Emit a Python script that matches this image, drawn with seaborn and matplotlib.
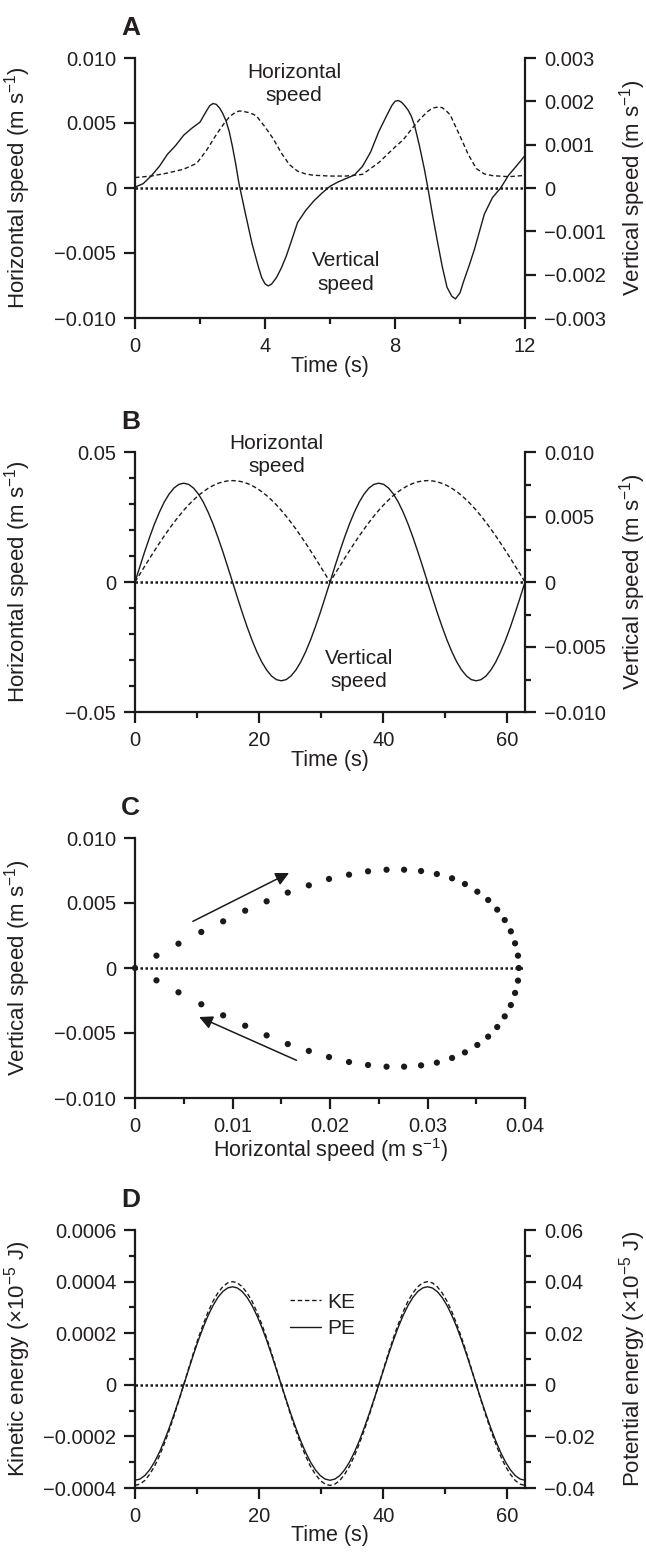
import matplotlib
matplotlib.use('Agg')
import matplotlib.pyplot as plt
from matplotlib.lines import Line2D
import seaborn as sns

# ---------------- data ----------------
# Panel A: measured speeds over 12 s
a_t_h = [0.0, 0.5, 1.0, 1.5, 1.9, 2.2, 2.5, 2.75, 2.9, 3.0, 3.1, 3.2, 3.3, 3.5,
         3.65, 3.75, 4.0, 4.25, 4.5, 4.75, 5.0, 5.25, 5.5, 6.0, 6.5, 7.0, 7.5,
         8.0, 8.25, 8.5, 8.75, 9.0, 9.1, 9.2, 9.33, 9.45, 9.55, 9.7, 9.85, 10.0,
         10.25, 10.5, 10.75, 11.0, 11.5, 12.0]
a_horiz = [0.00080, 0.00092, 0.00115, 0.00145, 0.00190, 0.00290, 0.00410, 0.00500,
           0.00545, 0.00566, 0.00583, 0.00592, 0.00591, 0.00580, 0.00566, 0.00550,
           0.00470, 0.00380, 0.00270, 0.00180, 0.00130, 0.00108, 0.00098, 0.00092,
           0.00092, 0.00105, 0.00195, 0.00315, 0.00370, 0.00450, 0.00525, 0.00588,
           0.00605, 0.00617, 0.00623, 0.00618, 0.00600, 0.00562, 0.00480, 0.00400,
           0.00260, 0.00150, 0.00108, 0.00095, 0.00087, 0.00097]
a_t_v = [0.0, 0.25, 0.5, 0.75, 1.0, 1.25, 1.5, 1.75, 2.0, 2.2, 2.3, 2.4, 2.5, 2.6,
         2.7, 2.8, 2.9, 3.0, 3.1, 3.2, 3.3, 3.4, 3.6, 3.8, 3.9, 4.0, 4.1, 4.2, 4.35,
         4.5, 4.65, 4.8, 5.0, 5.25, 5.5, 5.75, 6.0, 6.25, 6.5, 6.75, 7.0, 7.25, 7.5,
         7.75, 7.9, 8.0, 8.1, 8.2, 8.3, 8.4, 8.5, 8.6, 8.75, 8.9, 9.0, 9.15, 9.3,
         9.45, 9.6, 9.75, 9.86, 10.0, 10.1, 10.3, 10.45, 10.6, 10.75, 11.0, 11.25,
         11.5, 11.75, 12.0]
a_vert = [0.00002, 0.00010, 0.00028, 0.00050, 0.00078, 0.00098, 0.00122, 0.00138,
          0.00152, 0.00178, 0.00190, 0.00195, 0.00193, 0.00185, 0.00172, 0.00155,
          0.00130, 0.00095, 0.00055, 0.00010, -0.00025, -0.00060, -0.00128,
          -0.00183, -0.00207, -0.00221, -0.00226, -0.00222, -0.00207, -0.00185,
          -0.00158, -0.00125, -0.00080, -0.00052, -0.00030, -0.00012, 0.00004,
          0.00014, 0.00022, 0.00030, 0.00050, 0.00083, 0.00130, 0.00168, 0.00190,
          0.00200, 0.00202, 0.00198, 0.00190, 0.00180, 0.00166, 0.00145, 0.00098,
          0.00045, 0.00005, -0.00060, -0.00121, -0.00180, -0.00229, -0.00250,
          -0.00256, -0.00242, -0.00218, -0.00175, -0.00140, -0.00100, -0.00060,
          -0.00022, 0.00000, 0.00030, 0.00052, 0.00075]

# Panels B and D: model output over two cycles
bd_time = [0.0, 0.79, 1.57, 2.36, 3.14, 3.93, 4.71, 5.5, 6.28, 7.07, 7.85, 8.64,
           9.42, 10.21, 11.0, 11.78, 12.57, 13.35, 14.14, 14.92, 15.71, 16.49,
           17.28, 18.06, 18.85, 19.63, 20.42, 21.21, 21.99, 22.78, 23.56, 24.35,
           25.13, 25.92, 26.7, 27.49, 28.27, 29.06, 29.85, 30.63, 31.42, 32.2,
           32.99, 33.77, 34.56, 35.34, 36.13, 36.91, 37.7, 38.48, 39.27, 40.06,
           40.84, 41.63, 42.41, 43.2, 43.98, 44.77, 45.55, 46.34, 47.12, 47.91,
           48.69, 49.48, 50.27, 51.05, 51.84, 52.62, 53.41, 54.19, 54.98, 55.76,
           56.55, 57.33, 58.12, 58.9, 59.69, 60.48, 61.26, 62.05, 62.83]
b_horiz = [0.0, 0.00306, 0.0061, 0.0091, 0.01205, 0.01493, 0.01771, 0.02038,
           0.02292, 0.02533, 0.02758, 0.02966, 0.03155, 0.03325, 0.03475, 0.03603,
           0.03709, 0.03792, 0.03852, 0.03888, 0.0390, 0.03888, 0.03852, 0.03792,
           0.03709, 0.03603, 0.03475, 0.03325, 0.03155, 0.02966, 0.02758, 0.02533,
           0.02292, 0.02038, 0.01771, 0.01493, 0.01205, 0.0091, 0.0061, 0.00306,
           0.0, 0.00306, 0.0061, 0.0091, 0.01205, 0.01493, 0.01771, 0.02038,
           0.02292, 0.02533, 0.02758, 0.02966, 0.03155, 0.03325, 0.03475, 0.03603,
           0.03709, 0.03792, 0.03852, 0.03888, 0.0390, 0.03888, 0.03852, 0.03792,
           0.03709, 0.03603, 0.03475, 0.03325, 0.03155, 0.02966, 0.02758, 0.02533,
           0.02292, 0.02038, 0.01771, 0.01493, 0.01205, 0.0091, 0.0061, 0.00306, 0.0]
b_vert = [0.0, 0.00119, 0.00235, 0.00345, 0.00447, 0.00537, 0.00615, 0.00677,
          0.00723, 0.00751, 0.0076, 0.00751, 0.00723, 0.00677, 0.00615, 0.00537,
          0.00447, 0.00345, 0.00235, 0.00119, 0.0, -0.00119, -0.00235, -0.00345,
          -0.00447, -0.00537, -0.00615, -0.00677, -0.00723, -0.00751, -0.0076,
          -0.00751, -0.00723, -0.00677, -0.00615, -0.00537, -0.00447, -0.00345,
          -0.00235, -0.00119, 0.0, 0.00119, 0.00235, 0.00345, 0.00447, 0.00537,
          0.00615, 0.00677, 0.00723, 0.00751, 0.0076, 0.00751, 0.00723, 0.00677,
          0.00615, 0.00537, 0.00447, 0.00345, 0.00235, 0.00119, 0.0, -0.00119,
          -0.00235, -0.00345, -0.00447, -0.00537, -0.00615, -0.00677, -0.00723,
          -0.00751, -0.0076, -0.00751, -0.00723, -0.00677, -0.00615, -0.00537,
          -0.00447, -0.00345, -0.00235, -0.00119, 0.0]
d_ke = [-0.00039, -0.000385, -0.000371, -0.000347, -0.000316, -0.000276, -0.000229,
        -0.000177, -0.000121, -0.000061, 0.0, 0.000063, 0.000124, 0.000182,
        0.000235, 0.000283, 0.000324, 0.000356, 0.00038, 0.000395, 0.0004,
        0.000395, 0.00038, 0.000356, 0.000324, 0.000283, 0.000235, 0.000182,
        0.000124, 0.000063, 0.0, -0.000061, -0.000121, -0.000177, -0.000229,
        -0.000276, -0.000316, -0.000347, -0.000371, -0.000385, -0.00039,
        -0.000385, -0.000371, -0.000347, -0.000316, -0.000276, -0.000229,
        -0.000177, -0.000121, -0.000061, 0.0, 0.000063, 0.000124, 0.000182,
        0.000235, 0.000283, 0.000324, 0.000356, 0.00038, 0.000395, 0.0004,
        0.000395, 0.00038, 0.000356, 0.000324, 0.000283, 0.000235, 0.000182,
        0.000124, 0.000063, 0.0, -0.000061, -0.000121, -0.000177, -0.000229,
        -0.000276, -0.000316, -0.000347, -0.000371, -0.000385, -0.00039]
# potential energy in right-axis units
d_pe = [-0.037, -0.03654, -0.03519, -0.03297, -0.02993, -0.02616, -0.02175, -0.0168,
        -0.01143, -0.00579, 0.0, 0.00594, 0.01174, 0.01725, 0.02234, 0.02687,
        0.03074, 0.03386, 0.03614, 0.03753, 0.038, 0.03753, 0.03614, 0.03386,
        0.03074, 0.02687, 0.02234, 0.01725, 0.01174, 0.00594, 0.0, -0.00579,
        -0.01143, -0.0168, -0.02175, -0.02616, -0.02993, -0.03297, -0.03519,
        -0.03654, -0.037, -0.03654, -0.03519, -0.03297, -0.02993, -0.02616,
        -0.02175, -0.0168, -0.01143, -0.00579, 0.0, 0.00594, 0.01174, 0.01725,
        0.02234, 0.02687, 0.03074, 0.03386, 0.03614, 0.03753, 0.038, 0.03753,
        0.03614, 0.03386, 0.03074, 0.02687, 0.02234, 0.01725, 0.01174, 0.00594, 0.0,
        -0.00579, -0.01143, -0.0168, -0.02175, -0.02616, -0.02993, -0.03297,
        -0.03519, -0.03654, -0.037]

# Panel C: hodograph points
c_horiz = [0.0, 0.0022, 0.00446, 0.0068, 0.00904, 0.0113, 0.0135, 0.01567, 0.01783,
           0.0199, 0.02195, 0.0239, 0.0258, 0.0276, 0.02934, 0.03096, 0.03252,
           0.03384, 0.03511, 0.03622, 0.03715, 0.03792, 0.03855, 0.03898, 0.03928,
           0.03936, 0.03928, 0.03898, 0.03855, 0.03792, 0.03715, 0.03622, 0.03511,
           0.03384, 0.03252, 0.03096, 0.02934, 0.0276, 0.0258, 0.0239, 0.02195,
           0.0199, 0.01783, 0.01567, 0.0135, 0.0113, 0.00904, 0.0068, 0.00446, 0.0022]
c_vert = [0.0, 0.00095, 0.00187, 0.00277, 0.00359, 0.00441, 0.00513, 0.0058, 0.00636,
          0.00685, 0.00718, 0.00744, 0.00756, 0.00756, 0.00746, 0.00723, 0.0069,
          0.00646, 0.00587, 0.00523, 0.00449, 0.00369, 0.00282, 0.0019, 0.00095, 0.0,
          -0.00097, -0.00192, -0.00285, -0.00372, -0.00454, -0.00528, -0.00592,
          -0.00649, -0.00692, -0.00728, -0.00749, -0.00759, -0.00759, -0.00746,
          -0.00723, -0.00685, -0.00638, -0.00585, -0.00518, -0.00444, -0.00364,
          -0.00279, -0.00187, -0.00095]
c_arrow_tails = [(0.00594, 0.00359), (0.01656, -0.0071)]
c_arrow_heads = [(0.0158, 0.00731), (0.00658, -0.00377)]

# tick labels
M = '\u2212'
a_left_ticks = [-0.010, -0.005, 0.0, 0.005, 0.010]
a_left_labels = [M + '0.010', M + '0.005', '0', '0.005', '0.010']
a_right_ticks = [-0.003, -0.002, -0.001, 0.0, 0.001, 0.002, 0.003]
a_right_labels = [M + '0.003', M + '0.002', M + '0.001', '0', '0.001', '0.002', '0.003']
a_x_ticks = [0, 4, 8, 12]
b_left_ticks = [-0.05, 0.0, 0.05]
b_left_labels = [M + '0.05', '0', '0.05']
b_right_ticks = [-0.010, -0.005, 0.0, 0.005, 0.010]
b_right_labels = [M + '0.010', M + '0.005', '0', '0.005', '0.010']
bd_x_ticks = [0, 20, 40, 60]
c_y_ticks = a_left_ticks
c_y_labels = a_left_labels
c_x_ticks = [0.0, 0.01, 0.02, 0.03, 0.04]
c_x_labels = ['0', '0.01', '0.02', '0.03', '0.04']
d_left_ticks = [-0.0004, -0.0002, 0.0, 0.0002, 0.0004, 0.0006]
d_left_labels = [M + '0.0004', M + '0.0002', '0', '0.0002', '0.0004', '0.0006']
d_right_ticks = [-0.04, -0.02, 0.0, 0.02, 0.04, 0.06]
d_right_labels = [M + '0.04', M + '0.02', '0', '0.02', '0.04', '0.06']

# ---------------- style ----------------
sns.set_theme(style='ticks')
plt.rcParams['font.family'] = ['Liberation Sans', 'DejaVu Sans']
plt.rcParams['mathtext.fontset'] = 'custom'
plt.rcParams['mathtext.rm'] = 'Liberation Sans'
plt.rcParams['mathtext.it'] = 'Liberation Sans:italic'
plt.rcParams['mathtext.bf'] = 'Liberation Sans:bold'

TXT = '#231f20'
TICK_FS = 14.5
YLAB_FS = 16
XLAB_FS = 15.5
NOTE_FS = 15
SPINE_W = 1.6
LW = 1.0
DASH = (0, (3.2, 2.0))
DOT = (0, (1, 1.0))

fig = plt.figure(figsize=(6.46, 15.57), dpi=100)
W, H = 646.0, 1557.0


def make_axes(top, bottom):
    return fig.add_axes([135 / W, (H - bottom) / H, 390 / W, (bottom - top) / H])


def style(ax, sides):
    for s in ['top', 'bottom', 'left', 'right']:
        ax.spines[s].set_visible(s in sides)
        ax.spines[s].set_linewidth(SPINE_W)
        ax.spines[s].set_color('k')
    ax.tick_params(which='major', length=8, width=SPINE_W, pad=5.5,
                   labelsize=TICK_FS, colors='k', labelcolor=TXT, direction='out')
    ax.tick_params(which='minor', length=4, width=SPINE_W, colors='k', direction='out')
    ax.set_facecolor('none')


def panel_letter(letter, top):
    fig.text(121 / W, 1 - (top - 23) / H, letter, fontsize=19, fontweight='bold',
             color=TXT, va='baseline', ha='left')


def ylab_left(ax, text):
    ax.set_ylabel(text, fontsize=YLAB_FS, color=TXT)
    ax.yaxis.set_label_coords(-0.262, 0.5)


def ylab_right(ax, text):
    ax.set_ylabel(text, fontsize=YLAB_FS, color=TXT, rotation=90)
    ax.yaxis.set_label_position('right')
    ax.yaxis.set_label_coords(1.236, 0.5)


def xlab(ax, text):
    ax.set_xlabel(text, fontsize=XLAB_FS, color=TXT)
    ax.xaxis.set_label_coords(0.5, -0.145)


speed_lab = 'speed (m s$^{\u22121}$)'

# ---------------- Panel A ----------------
axA = make_axes(58, 318)
axA2 = axA.twinx()
style(axA, ['left', 'bottom'])
style(axA2, ['right'])
axA.axhline(0, color='k', lw=1.8, linestyle=DOT)
sns.lineplot(x=a_t_h, y=a_horiz, ax=axA, color='k', lw=LW, linestyle=DASH,
             sort=False, estimator=None)
sns.lineplot(x=a_t_v, y=a_vert, ax=axA2, color='k', lw=LW, sort=False, estimator=None)
axA.set_xlim(0, 12)
axA.set_ylim(-0.010, 0.010)
axA2.set_ylim(-0.003, 0.003)
axA.set_xticks(a_x_ticks, [str(v) for v in a_x_ticks])
axA.set_xticks([2, 6, 10], minor=True)
axA.set_yticks(a_left_ticks, a_left_labels)
axA2.set_yticks(a_right_ticks, a_right_labels)
ylab_left(axA, 'Horizontal ' + speed_lab)
ylab_right(axA2, 'Vertical ' + speed_lab)
xlab(axA, 'Time (s)')
axA.text(4.9, 0.0080, 'Horizontal\nspeed', ha='center', va='center', fontsize=NOTE_FS,
         color=TXT, linespacing=1.3)
axA.text(6.5, -0.0065, 'Vertical\nspeed', ha='center', va='center', fontsize=NOTE_FS,
         color=TXT, linespacing=1.3)
panel_letter('A', 58)

# ---------------- Panel B ----------------
axB = make_axes(452, 712)
axB2 = axB.twinx()
style(axB, ['left', 'bottom'])
style(axB2, ['right'])
axB.axhline(0, color='k', lw=1.8, linestyle=DOT)
sns.lineplot(x=bd_time, y=b_horiz, ax=axB, color='k', lw=LW, linestyle=DASH,
             sort=False, estimator=None)
sns.lineplot(x=bd_time, y=b_vert, ax=axB2, color='k', lw=LW, sort=False, estimator=None)
axB.set_xlim(0, 62.83)
axB.set_ylim(-0.05, 0.05)
axB2.set_ylim(-0.010, 0.010)
axB.set_xticks(bd_x_ticks, [str(v) for v in bd_x_ticks])
axB.set_xticks([10, 30, 50], minor=True)
axB.set_yticks(b_left_ticks, b_left_labels)
axB.set_yticks([-0.04, -0.03, -0.02, -0.01, 0.01, 0.02, 0.03, 0.04], minor=True)
axB2.set_yticks(b_right_ticks, b_right_labels)
axB2.set_yticks([-0.0075, -0.0025, 0.0025, 0.0075], minor=True)
ylab_left(axB, 'Horizontal ' + speed_lab)
ylab_right(axB2, 'Vertical ' + speed_lab)
xlab(axB, 'Time (s)')
axB.text(22.8, 0.0488, 'Horizontal\nspeed', ha='center', va='center', fontsize=NOTE_FS,
         color=TXT, linespacing=1.3, clip_on=False)
axB.text(36.1, -0.0338, 'Vertical\nspeed', ha='center', va='center', fontsize=NOTE_FS,
         color=TXT, linespacing=1.3)
panel_letter('B', 452)

# ---------------- Panel C ----------------
axC = make_axes(838, 1098)
style(axC, ['left', 'bottom'])
axC.axhline(0, color='k', lw=1.8, linestyle=DOT)
sns.scatterplot(x=c_horiz, y=c_vert, ax=axC, color='k', s=20, edgecolor='none',
                clip_on=False, zorder=3)
for tail, head in zip(c_arrow_tails, c_arrow_heads):
    axC.annotate('', xy=head, xytext=tail,
                 arrowprops=dict(arrowstyle='-|>', color='k', lw=1.1,
                                 mutation_scale=20, shrinkA=0, shrinkB=0))
axC.set_xlim(0, 0.04)
axC.set_ylim(-0.010, 0.010)
axC.set_xticks(c_x_ticks, c_x_labels)
axC.set_xticks([0.005, 0.015, 0.025, 0.035], minor=True)
axC.set_yticks(c_y_ticks, c_y_labels)
ylab_left(axC, 'Vertical ' + speed_lab)
xlab(axC, 'Horizontal ' + speed_lab)
panel_letter('C', 838)

# ---------------- Panel D ----------------
axD = make_axes(1230, 1488)
axD2 = axD.twinx()
style(axD, ['left', 'bottom'])
style(axD2, ['right'])
axD.axhline(0, color='k', lw=1.8, linestyle=DOT)
sns.lineplot(x=bd_time, y=d_ke, ax=axD, color='k', lw=LW, linestyle=DASH,
             sort=False, estimator=None)
sns.lineplot(x=bd_time, y=d_pe, ax=axD2, color='k', lw=LW, sort=False, estimator=None)
axD.set_xlim(0, 62.83)
axD.set_ylim(-0.0004, 0.0006)
axD2.set_ylim(-0.04, 0.06)
axD.set_xticks(bd_x_ticks, [str(v) for v in bd_x_ticks])
axD.set_xticks([10, 30, 50], minor=True)
axD.set_yticks(d_left_ticks, d_left_labels)
axD.set_yticks([-0.0003, -0.0001, 0.0001, 0.0003, 0.0005], minor=True)
axD2.set_yticks(d_right_ticks, d_right_labels)
axD2.set_yticks([-0.03, -0.01, 0.01, 0.03, 0.05], minor=True)
ylab_left(axD, 'Kinetic energy ($\\times$10$^{\u22125}$ J)')
ylab_right(axD2, 'Potential energy ($\\times$10$^{\u22125}$ J)')
xlab(axD, 'Time (s)')
handles = [Line2D([], [], color='k', lw=LW, linestyle=DASH),
           Line2D([], [], color='k', lw=LW)]
leg = axD.legend(handles, ['KE', 'PE'], loc='upper left', bbox_to_anchor=(0.397, 0.757),
                 frameon=False, fontsize=NOTE_FS, handlelength=1.5, handletextpad=0.3,
                 labelspacing=0.35, borderpad=0, borderaxespad=0)
for t in leg.get_texts():
    t.set_color(TXT)
panel_letter('D', 1230)

fig.savefig('out.png', dpi=100)
